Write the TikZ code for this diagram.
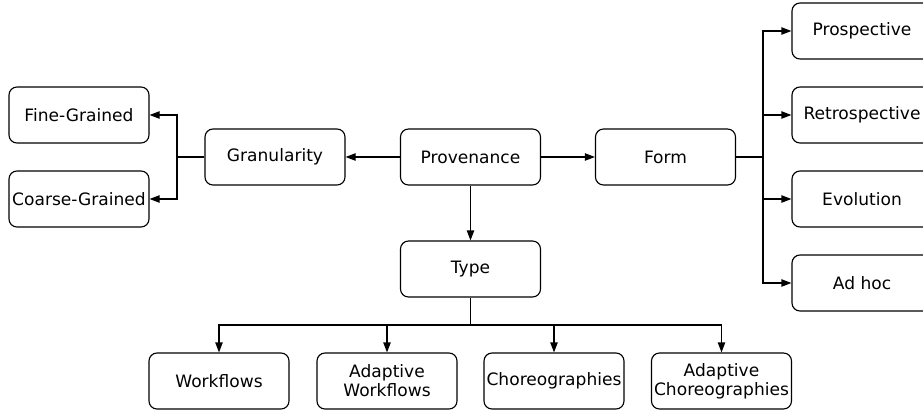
\documentclass[tikz,border=0pt]{standalone}
\usepackage{fontspec}
\setmainfont{DejaVu Sans}
\usetikzlibrary{arrows.meta}
\tikzset{
  box/.style={draw,rectangle,rounded corners=6pt,line width=0.85pt,
    minimum width=105pt,minimum height=42pt,align=center,inner sep=1pt,
    font=\fontsize{12.8}{14.2}\selectfont},
  link/.style={line width=0.85pt,-{Triangle[length=7.5pt,width=5.5pt]}},
  plain/.style={line width=0.85pt}
}
\begin{document}
\begin{tikzpicture}[x=0.75pt,y=-0.75pt]
  \useasboundingbox (0,0) rectangle (923,414);
  \node (Fine) at (79,115) [box] {Fine-Grained};
  \node (Coarse) at (79,199) [box] {Coarse-Grained};
  \node (Gran) at (275,157) [box] {Granularity};
  \node (Prov) at (470.5,157) [box] {Provenance};
  \node (Form) at (665.5,157) [box] {Form};
  \node (Prosp) at (862,31) [box] {Prospective};
  \node (Retro) at (862,115) [box] {Retrospective};
  \node (Evol) at (862,199) [box] {Evolution};
  \node (Adhoc) at (862,283) [box] {Ad hoc};
  \node (Type) at (470.5,269) [box] {Type};
  \node (Wf) at (219,381) [box] {Workflows};
  \node (AWf) at (387,381) [box] {Adaptive\\Workflows};
  \node (Ch) at (554,381) [box] {Choreographies};
  \node (ACh) at (721.5,381) [box] {Adaptive\\Choreographies};
  \coordinate (gj) at (177,157);
  \coordinate (fj) at (763,157);
  \coordinate (tj) at (470.5,325);
  % provenance
  \draw [link] (Prov) -- (Gran);
  \draw [link] (Prov) -- (Form);
  \draw [link] (Prov) -- (Type);
  % granularity
  \draw [plain] (Gran) -- (gj);
  \draw [link] (gj) |- (Fine);
  \draw [link] (gj) |- (Coarse);
  % form
  \draw [plain] (Form) -- (fj);
  \draw [link] (fj) |- (Prosp);
  \draw [link] (fj) |- (Retro);
  \draw [link] (fj) |- (Evol);
  \draw [link] (fj) |- (Adhoc);
  % type
  \draw [plain] (Type) -- (tj);
  \draw [link] (tj) -| (Wf);
  \draw [link] (tj) -| (AWf);
  \draw [link] (tj) -| (Ch);
  \draw [link] (tj) -| (ACh);
\end{tikzpicture}
\end{document}
